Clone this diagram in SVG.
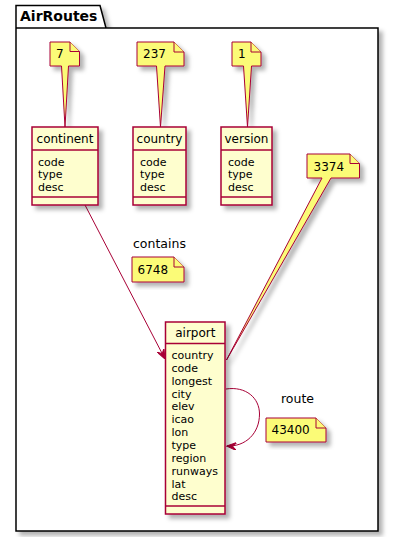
<svg xmlns="http://www.w3.org/2000/svg" width="393" height="537" viewBox="0 0 393 537">
<style>
text{font-family:"DejaVu Sans","Liberation Sans",sans-serif;fill:#000}
.cls{fill:#FEFECE;stroke:#A80036;stroke-width:1.5}
.sep{stroke:#A80036;stroke-width:1.5}
.note{fill:#FBFB77;stroke:#A80036;stroke-width:1}
.name{font-size:12px;text-anchor:middle}
.attr{font-size:11px}
.ntxt{font-size:12px}
.lbl{font-size:12.5px}
.edge{fill:none;stroke:#A80036;stroke-width:1}
</style>
<defs>
<filter id="sh" x="-20%" y="-20%" width="150%" height="150%">
<feGaussianBlur in="SourceAlpha" stdDeviation="2"/>
<feOffset dx="4" dy="4" result="b"/>
<feFlood flood-color="#000" flood-opacity="0.3"/>
<feComposite in2="b" operator="in"/>
<feMerge><feMergeNode/><feMergeNode in="SourceGraphic"/></feMerge>
</filter>
<marker id="ah" markerUnits="userSpaceOnUse" viewBox="0 0 10 8" refX="10" refY="4" markerWidth="10" markerHeight="8" orient="auto">
<path d="M0,0 L10,4 L0,8 L4,4 Z" fill="#A80036" stroke="#A80036" stroke-width="1"/>
</marker>
</defs>

<g id="package">
<path d="M16,28 L16,5.5 L100,5.5 L106,28 Z M16,28 L378,28 L378,531 L16,531 Z" fill="#FFFFFF" stroke="#000" stroke-width="1.5" filter="url(#sh)"/>
<text x="20" y="21" font-size="14" font-weight="bold">AirRoutes</text>
</g>

<g id="connectors">
<path class="edge" d="M85,205 L165,359" marker-end="url(#ah)"/>
<text class="lbl" x="133" y="248">contains</text>
<path class="edge" d="M226,389 C246,386 259.5,398 259.5,414 C259.5,433 246,447 226.5,446" marker-end="url(#ah)"/>
<text class="lbl" x="281" y="403">route</text>
</g>

<g id="note-7">
<path class="note" filter="url(#sh)" d="M50,42 L70,42 L79.5,51.5 L79.5,66 L68.5,66 L65,127 L61.5,66 L50,66 Z"/>
<path class="note" d="M70,42 L70,51.5 L79.5,51.5"/>
<text class="ntxt" x="56" y="58">7</text>
</g>

<g id="note-237">
<path class="note" filter="url(#sh)" d="M137,42 L174,42 L184,52 L184,66 L165,66 L160.5,127 L156.5,66 L137,66 Z"/>
<path class="note" d="M174,42 L174,52 L184,52"/>
<text class="ntxt" x="143" y="58">237</text>
</g>

<g id="note-1">
<path class="note" filter="url(#sh)" d="M232,42 L251,42 L261,52 L261,66 L251.5,66 L247.5,127 L243.5,66 L232,66 Z"/>
<path class="note" d="M251,42 L251,52 L261,52"/>
<text class="ntxt" x="238" y="58">1</text>
</g>

<g id="note-3374">
<path class="note" filter="url(#sh)" d="M307,154 L350,154 L359.5,163.5 L359.5,178 L331,178 L226.5,360 L322,178 L307,178 Z"/>
<path class="note" d="M350,154 L350,163.5 L359.5,163.5"/>
<text class="ntxt" x="313.5" y="171">3374</text>
</g>

<g id="note-6748">
<path class="note" filter="url(#sh)" d="M132,257 L174,257 L184,267 L184,282 L132,282 Z"/>
<path class="note" d="M174,257 L174,267 L184,267"/>
<text class="ntxt" x="137.5" y="274">6748</text>
</g>

<g id="note-43400">
<path class="note" filter="url(#sh)" d="M266,418 L316,418 L326,428 L326,442 L266,442 Z"/>
<path class="note" d="M316,418 L316,428 L326,428"/>
<text class="ntxt" x="271.5" y="434">43400</text>
</g>

<g id="continent">
<rect class="cls" x="32" y="127" width="66" height="78" filter="url(#sh)"/>
<line class="sep" x1="32" y1="150" x2="98" y2="150"/>
<line class="sep" x1="32" y1="197" x2="98" y2="197"/>
<text class="name" x="65" y="142.5">continent</text>
<text class="attr" x="38" y="165.5">code</text>
<text class="attr" x="38" y="178.3">type</text>
<text class="attr" x="38" y="191">desc</text>
</g>

<g id="country">
<rect class="cls" x="133" y="127" width="53" height="78" filter="url(#sh)"/>
<line class="sep" x1="133" y1="150" x2="186" y2="150"/>
<line class="sep" x1="133" y1="197" x2="186" y2="197"/>
<text class="name" x="159.5" y="142.5">country</text>
<text class="attr" x="140" y="165.5">code</text>
<text class="attr" x="140" y="178.3">type</text>
<text class="attr" x="140" y="191">desc</text>
</g>

<g id="version">
<rect class="cls" x="221" y="127" width="51" height="78" filter="url(#sh)"/>
<line class="sep" x1="221" y1="150" x2="272" y2="150"/>
<line class="sep" x1="221" y1="197" x2="272" y2="197"/>
<text class="name" x="246.5" y="142.5">version</text>
<text class="attr" x="228" y="165.5">code</text>
<text class="attr" x="228" y="178.3">type</text>
<text class="attr" x="228" y="191">desc</text>
</g>

<g id="airport">
<rect class="cls" x="165.5" y="322" width="59.5" height="192" filter="url(#sh)"/>
<line class="sep" x1="165.5" y1="343.5" x2="225" y2="343.5"/>
<line class="sep" x1="165.5" y1="506" x2="225" y2="506"/>
<text class="name" x="195.3" y="337">airport</text>
<text class="attr" x="171.5" y="359">country</text>
<text class="attr" x="171.5" y="371.9">code</text>
<text class="attr" x="171.5" y="384.7">longest</text>
<text class="attr" x="171.5" y="397.6">city</text>
<text class="attr" x="171.5" y="410.4">elev</text>
<text class="attr" x="171.5" y="423.3">icao</text>
<text class="attr" x="171.5" y="436.1">lon</text>
<text class="attr" x="171.5" y="449">type</text>
<text class="attr" x="171.5" y="461.8">region</text>
<text class="attr" x="171.5" y="474.7">runways</text>
<text class="attr" x="171.5" y="487.5">lat</text>
<text class="attr" x="171.5" y="500.4">desc</text>
</g>
</svg>
